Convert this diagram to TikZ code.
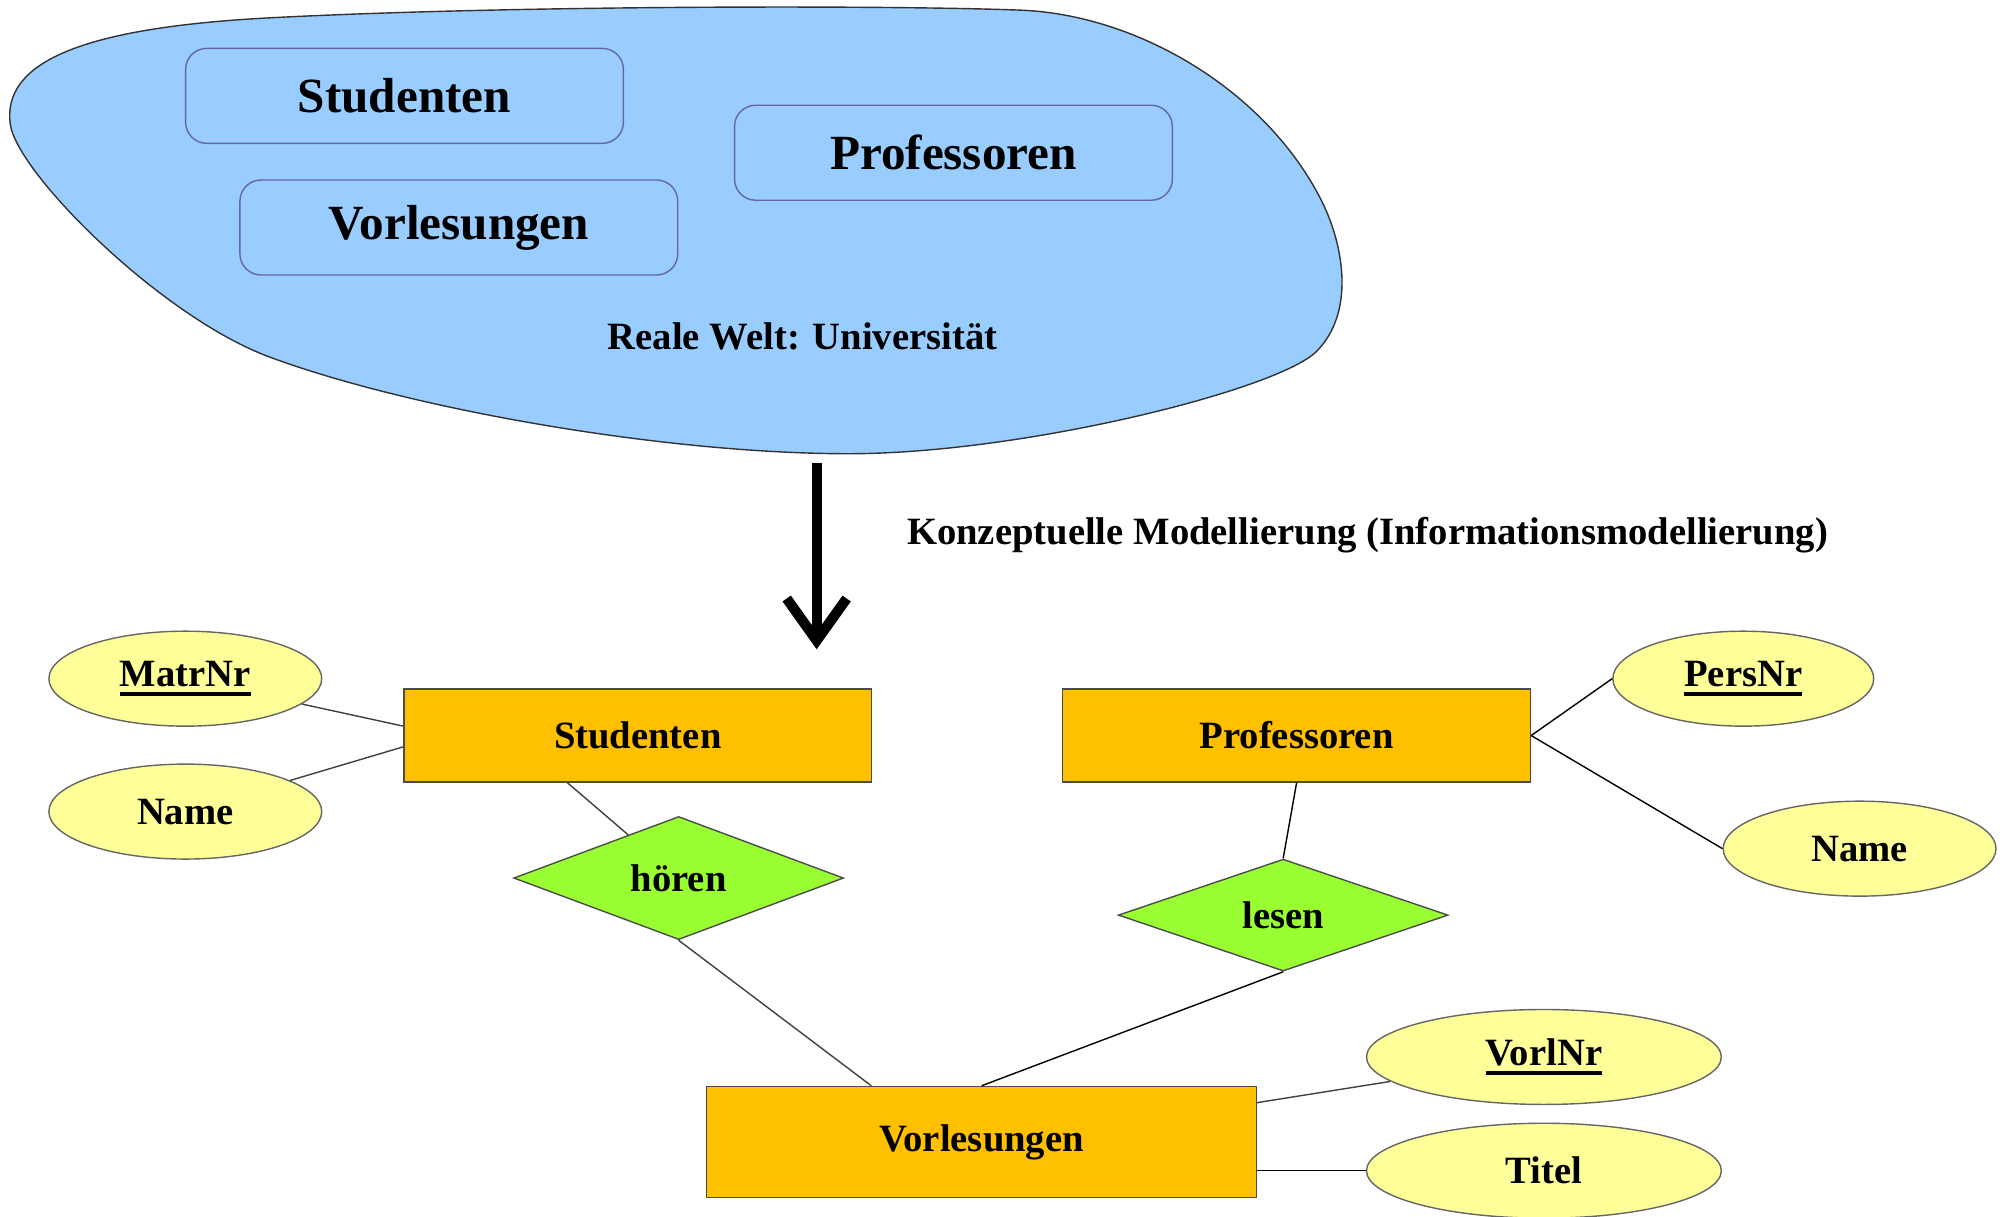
\documentclass[tikz,border=0pt]{standalone}
\usepackage{fontspec}
\setmainfont{Liberation Serif}
\usetikzlibrary{arrows.meta,shapes.geometric,calc}
\definecolor{worldblue}{HTML}{99CCFF}
\definecolor{entityfill}{HTML}{FFC000}
\definecolor{relfill}{HTML}{99FF33}
\definecolor{attrfill}{HTML}{FFFF99}
\newcommand{\pkey}[1]{\setbox0\hbox{#1}\rlap{\rule[-2.6pt]{\wd0}{1.1pt}}\box0}

\begin{document}
\begin{tikzpicture}[x=0.01278cm, y=-0.01278cm,
      every node/.append style={font=\bfseries\fontsize{11}{13}\selectfont},
      conn/.style={draw=black!75, line width=0.4pt}]
    \tikzstyle{world} = [draw=black!80, line width=0.4pt, fill=worldblue]
    \tikzstyle{concept} = [draw=black!60!blue!60, fill=worldblue, rounded corners=6pt,
      minimum width=4.38cm, minimum height=0.95cm, font=\bfseries\fontsize{14}{16}\selectfont]
    \tikzstyle{entity} = [draw=black!70, fill=entityfill, minimum width=4.68cm, minimum height=0.93cm]
    \tikzstyle{relation} = [diamond, draw=black!70, fill=relfill, inner sep=0pt,
      minimum width=3.3cm, minimum height=1.12cm]
    \tikzstyle{attribute} = [ellipse, draw=black!60, fill=attrfill, inner sep=0pt,
      minimum width=2.73cm, minimum height=0.95cm]
    \useasboundingbox (0,0) rectangle (1568,952);
    \path[world] (8,97) .. controls (2,50) and (60,22) .. (210,14)
      .. controls (400,4) and (700,4) .. (800,8)
      .. controls (890,12) and (990,70) .. (1034,157)
      .. controls (1052,193) and (1060,245) .. (1030,275)
      .. controls (1000,305) and (800,355) .. (664,355)
      .. controls (520,355) and (320,320) .. (210,279)
      .. controls (125,247) and (13,135) .. (8,97) -- cycle;
    \node (cStud) [concept] at (316.5,75) {Studenten};
    \node (cProf) [concept] at (746,119.5) {Professoren};
    \node (cVorl) [concept] at (359,178) {Vorlesungen};
    \node (world) at (628,263) {Reale Welt: Universität};
    \coordinate (modelTop) at (639,362);
    \coordinate (modelTip) at (639,508);
    \draw[line width=2.9pt, -{Straight Barb[length=0.42cm, width=0.6cm]}] (modelTop) -- (modelTip);
    \node (model) [anchor=west] at (700,419) {Konzeptuelle Modellierung (Informationsmodellierung)};
    \node (stud) [entity] at (499,575.5) {Studenten};
    \node (prof) [entity] at (1014.5,575.5) {Professoren};
    \node (vorl) [entity, minimum width=5.5cm, minimum height=1.11cm] at (768,893.5) {Vorlesungen};
    \node (hoeren) [relation] at (531,687) {hören};
    \node (lesen) [relation] at (1004,716) {lesen};
    \node (matr) [attribute] at (145,531) {\pkey{MatrNr}};
    \node (sname) [attribute] at (145,635) {Name};
    \node (pers) [attribute, minimum width=2.61cm] at (1364,531) {\pkey{PersNr}};
    \node (pname) [attribute] at (1455,664) {Name};
    \node (vnr) [attribute, minimum width=3.55cm] at (1208,827) {\pkey{VorlNr}};
    \node (titel) [attribute, minimum width=3.55cm] at (1208,916) {Titel};
    \draw[conn] (matr) -- ($(stud.north west)!0.4!(stud.south west)$);
    \draw[conn] (sname) -- ($(stud.north west)!0.62!(stud.south west)$);
    \draw[conn] ($(stud.south west)!0.35!(stud.south east)$) -- (hoeren);
    \draw[conn] (hoeren.south) -- ($(vorl.north west)!0.3!(vorl.north east)$);
    \draw[conn, draw=black] (prof.south) -- (lesen.north);
    \draw[conn, draw=black] (lesen.south) -- (vorl.north);
    \draw[conn, draw=black] (prof.east) -- (pers.west);
    \draw[conn, draw=black] (prof.east) -- (pname.west);
    \draw[conn] ($(vorl.north east)!0.15!(vorl.south east)$) -- (vnr);
    \draw[conn, draw=black] (titel.west -| vorl.east) -- (titel.west);
\end{tikzpicture}
\end{document}
